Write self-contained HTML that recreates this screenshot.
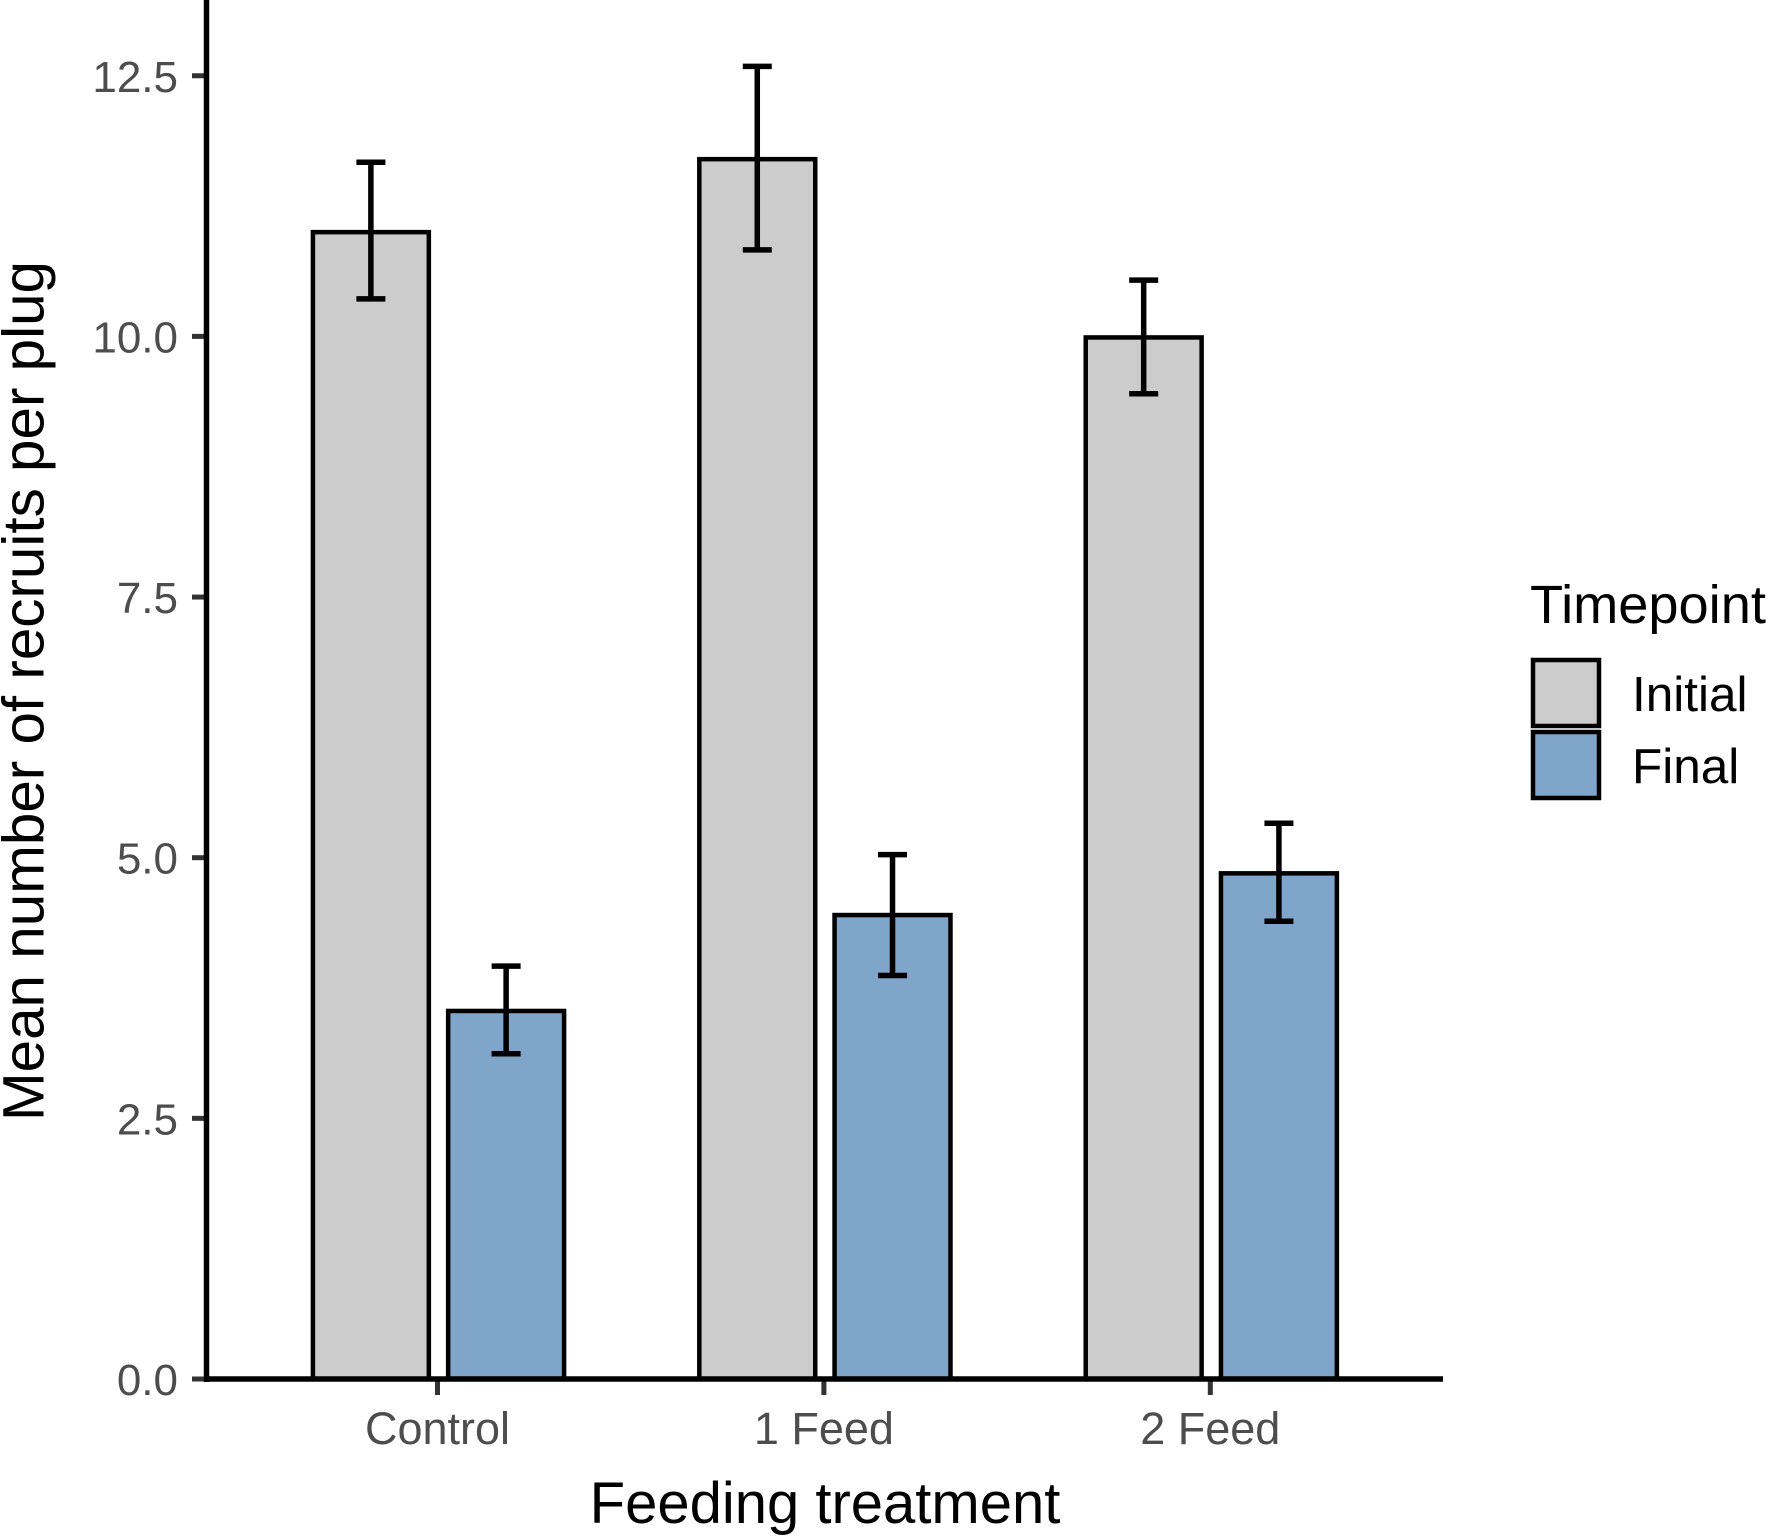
<!DOCTYPE html>
<html lang="en">
<head>
<meta charset="utf-8">
<title>Mean number of recruits per plug by feeding treatment</title>
<style>
html,body{margin:0;padding:0;background:#fff;width:1768px;height:1538px;overflow:hidden}
svg{display:block;font-family:"Liberation Sans",Arial,sans-serif}
</style>
</head>
<body>
<svg id="chart" xmlns="http://www.w3.org/2000/svg" width="1768" height="1538" viewBox="0 0 1768 1538">
<rect width="1768" height="1538" fill="#fff"/>
<g id="bars"></g>
<g id="errors"></g>
<g id="axes"></g>
<text x="825" y="1523" font-size="58" text-anchor="middle" fill="#000">Feeding treatment</text>
<text transform="translate(43.5,691) rotate(-90)" font-size="58.4" text-anchor="middle" fill="#000">Mean number of recruits per plug</text>
<g>
<text x="1530" y="623" font-size="54.2" fill="#000">Timepoint</text>
<rect x="1533" y="660" width="66" height="66" fill="#cccccc" stroke="#000" stroke-width="4.5"/>
<text x="1632" y="711" font-size="49.5" fill="#000">Initial</text>
<rect x="1533" y="732" width="66" height="66" fill="#80a5cb" stroke="#000" stroke-width="4.5"/>
<text x="1632" y="783" font-size="49.5" fill="#000">Final</text>
</g>
</svg>
<script>
const categories = ["Control", "1 Feed", "2 Feed"];
const seriesNames = ["Initial", "Final"];
const initialValues = [11.0, 11.7, 9.99];
const finalValues = [3.53, 4.45, 4.85];
const initialLower = [10.36, 10.83, 9.45];
const initialUpper = [11.67, 12.59, 10.54];
const finalLower = [3.12, 3.87, 4.39];
const finalUpper = [3.96, 5.03, 5.33];
const yTicks = [0, 2.5, 5, 7.5, 10, 12.5];
const yTickLabels = ["0.0", "2.5", "5.0", "7.5", "10.0", "12.5"];

const NS = "http://www.w3.org/2000/svg";
const yZero = 1379, yUnit = 104.26;
const xFirst = 437.5, xStep = 386.4, barShift = 1;
const scaleY = function (v) { return yZero - v * yUnit; };
const scaleX = function (i) { return xFirst + i * xStep; };
const barWidth = 0.3 * xStep, dodge = 0.175 * xStep, capHalf = 14.5;

function make(tag, attrs, parent, text) {
  const el = document.createElementNS(NS, tag);
  for (const k in attrs) el.setAttribute(k, attrs[k]);
  if (text !== undefined) el.textContent = text;
  parent.appendChild(el);
  return el;
}

const barsG = document.getElementById("bars");
const errG = document.getElementById("errors");
const axesG = document.getElementById("axes");
const seriesData = [
  { name: seriesNames[0], vals: initialValues, lo: initialLower, hi: initialUpper, fill: "#cccccc", side: -1 },
  { name: seriesNames[1], vals: finalValues, lo: finalLower, hi: finalUpper, fill: "#80a5cb", side: 1 }
];

seriesData.forEach(function (s) {
  s.vals.forEach(function (v, i) {
    const cx = scaleX(i) + s.side * dodge + barShift;
    const slug = (categories[i] + "-" + s.name).toLowerCase().replace(/ /g, "-");
    const bar = make("rect", { x: cx - barWidth / 2, y: scaleY(v), width: barWidth, height: yZero - scaleY(v), fill: s.fill, stroke: "#000", "stroke-width": 4.5 }, barsG);
    
    
    const err = make("path", {
      d: "M" + (cx - capHalf) + " " + scaleY(s.hi[i]) + "H" + (cx + capHalf) +
         "M" + cx + " " + scaleY(s.hi[i]) + "V" + scaleY(s.lo[i]) +
         "M" + (cx - capHalf) + " " + scaleY(s.lo[i]) + "H" + (cx + capHalf),
      fill: "none", stroke: "#000", "stroke-width": 5.5
    }, errG);
    
    
  });
});

yTicks.forEach(function (t, i) {
  const tick = make("line", { x1: 192, x2: 204, y1: scaleY(t), y2: scaleY(t), stroke: "#333", "stroke-width": 5 }, axesG);
  
  
  const label = make("text", { x: 178, y: scaleY(t) + 16, "font-size": 44, "text-anchor": "end", fill: "#4d4d4d" }, axesG, yTickLabels[i]);
  
  
});

categories.forEach(function (c, i) {
  const tick = make("line", { x1: scaleX(i), x2: scaleX(i), y1: 1381, y2: 1395, stroke: "#333", "stroke-width": 5 }, axesG);
  
  
  const label = make("text", { x: scaleX(i), y: 1444, "font-size": 45, "text-anchor": "middle", fill: "#4d4d4d" }, axesG, c);
  
  
});

const yAxis = make("line", { x1: 206.5, x2: 206.5, y1: 0, y2: 1382, stroke: "#000", "stroke-width": 5.5 }, axesG);


const xAxis = make("line", { x1: 204, x2: 1443, y1: 1379, y2: 1379, stroke: "#000", "stroke-width": 5.5 }, axesG);


</script>
</body>
</html>
